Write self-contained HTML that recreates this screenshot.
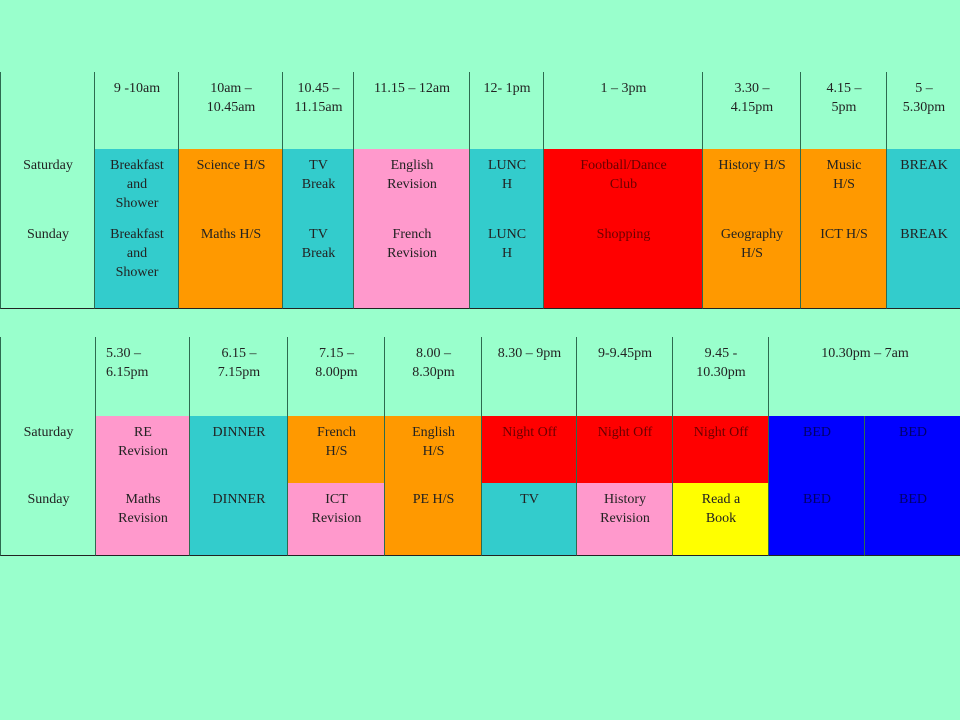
<!DOCTYPE html>
<html><head><meta charset="utf-8">
<style>
html,body{margin:0;padding:0}
body{width:960px;height:720px;background:#99FFCC;position:relative;overflow:hidden;font-family:"Liberation Serif",serif;font-size:14px;color:#222}
.c{position:absolute;box-sizing:border-box;border-left:1.5px solid #2d6b50;border-bottom:1.5px solid #222;text-align:center;line-height:19px;padding-top:7px}
.tb{position:absolute;left:0;width:960px;border-top:1.5px solid #222}
</style></head>
<body>
<div class="tb" style="top:72px"></div>
<div class="tb" style="top:337px"></div>
<script>
var T='#33CCCC',O='#FF9900',P='#FF99CC',R='#FF0000',B='#0000FF',Y='#FFFF00',G='#99FFCC';
var topCols=[0,94,178,282,353,469,543,702,800,886,960];
var topRows=[72,149,218,308];
var topHeader=['','9 -10am','10am –<br>10.45am','10.45 –<br>11.15am','11.15 – 12am','12- 1pm','1 – 3pm','3.30 –<br>4.15pm','4.15 –<br>5pm','5 –<br>5.30pm'];
var topSat=['Saturday','Breakfast<br>and<br>Shower','Science H/S','TV<br>Break','English<br>Revision','LUNC<br>H','Football/Dance<br>Club','History H/S','Music<br>H/S','BREAK'];
var topSun=['Sunday','Breakfast<br>and<br>Shower','Maths H/S','TV<br>Break','French<br>Revision','LUNC<br>H','Shopping','Geography<br>H/S','ICT H/S','BREAK'];
var topColors=[G,T,O,T,P,T,R,O,O,T];
var botCols=[0,95,189,287,384,481,576,672,768,864,960];
var botRows=[337,416,483,555];
var botHeader=['','5.30 –<br>6.15pm','6.15 –<br>7.15pm','7.15 –<br>8.00pm','8.00 –<br>8.30pm','8.30 – 9pm','9-9.45pm','9.45 -<br>10.30pm','10.30pm – 7am'];
var botSat=['Saturday','RE<br>Revision','DINNER','French<br>H/S','English<br>H/S','Night Off','Night Off','Night Off','BED','BED'];
var botSun=['Sunday','Maths<br>Revision','DINNER','ICT<br>Revision','PE H/S','TV','History<br>Revision','Read a<br>Book','BED','BED'];
var botSatColors=[G,P,T,O,O,R,R,R,B,B];
var botSunColors=[G,P,T,P,O,T,P,Y,B,B];
function cell(x0,x1,y0,y1,html,bg,name){
  var d=document.createElement('div');
  d.className='c';
  d.style.left=x0+'px';d.style.top=y0+'px';d.style.width=(x1-x0+1)+'px';d.style.height=(y1-y0+1)+'px';
  d.style.background=bg;d.innerHTML=html;
  if(bg===R)d.style.color='#6a0000';
  if(bg===B)d.style.color='#00006a';
  
  
  document.body.appendChild(d);
  return d;
}
for(var i=0;i<10;i++){
  cell(topCols[i],topCols[i+1],topRows[0],topRows[1],topHeader[i],G,'top-header-cell');
  cell(topCols[i],topCols[i+1],topRows[1],topRows[2],topSat[i],topColors[i],'top-saturday-cell');
  cell(topCols[i],topCols[i+1],topRows[2],topRows[3],topSun[i],topColors[i],'top-sunday-cell');
}
for(var j=0;j<9;j++){
  var x1=j==8?botCols[10]:botCols[j+1];
  var h=cell(botCols[j],x1,botRows[0],botRows[1],botHeader[j],G,'bottom-header-cell');
  if(j==1){h.style.textAlign='left';h.style.paddingLeft='10px';}
}
for(var k=0;k<10;k++){
  cell(botCols[k],botCols[k+1],botRows[1],botRows[2],botSat[k],botSatColors[k],'bottom-saturday-cell');
  cell(botCols[k],botCols[k+1],botRows[2],botRows[3],botSun[k],botSunColors[k],'bottom-sunday-cell');
}
</script>
</body></html>
